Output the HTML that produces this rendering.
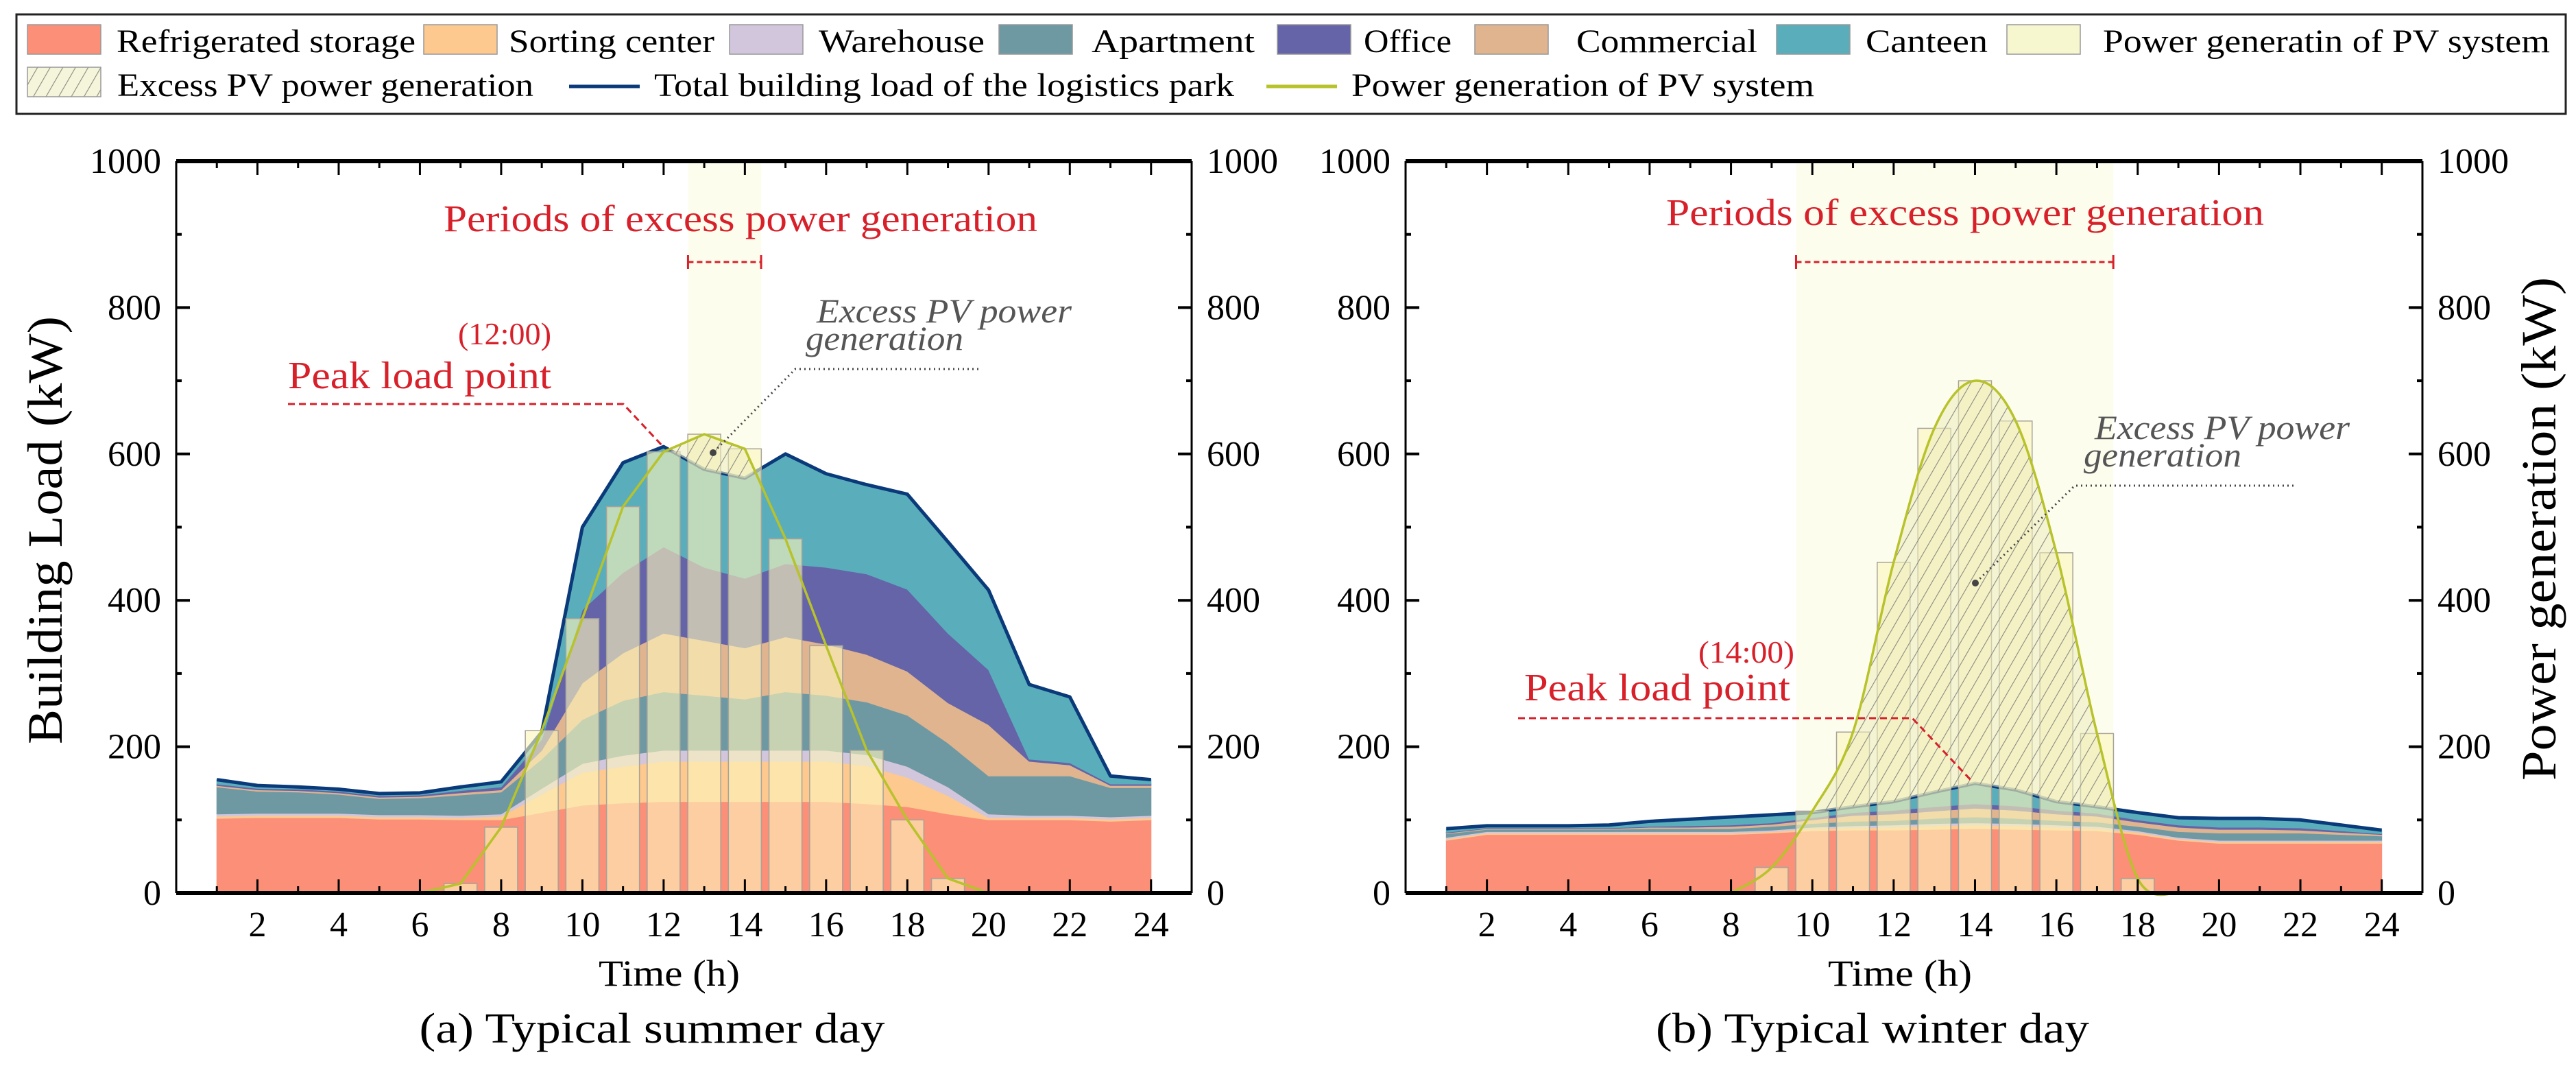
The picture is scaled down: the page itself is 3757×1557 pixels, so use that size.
<!DOCTYPE html>
<html><head><meta charset="utf-8"><style>
html,body{margin:0;padding:0;background:#fff;}
svg{display:block;font-family:"Liberation Serif",serif;}
</style></head><body>
<svg id="chart" width="3757" height="1557" viewBox="0 0 3757 1557" xmlns="http://www.w3.org/2000/svg">
<defs>
<pattern id="hatch" patternUnits="userSpaceOnUse" width="16" height="16" patternTransform="rotate(30)">
<rect width="16" height="16" fill="rgba(236,236,190,0.55)"/>
<line x1="0" y1="0" x2="0" y2="16" stroke="#8a8a80" stroke-width="2.2"/>
</pattern>
</defs>
<g id="legend">
<rect x="24" y="21" width="3718" height="145" fill="#fff" stroke="#222" stroke-width="3"/>
</g>
<g id="panelA"></g>
<g id="panelB"></g>
</svg>
<script>
const NS='http://www.w3.org/2000/svg';
// ---------- data ----------
const hours=[1,2,3,4,5,6,7,8,9,10,11,12,13,14,15,16,17,18,19,20,21,22,23,24];
const xTicks=[2,4,6,8,10,12,14,16,18,20,22,24];
const yTicks=[0,200,400,600,800,1000];
// summer layers (kW)
const sRefrig=[102,103,103,103,101,101,100,100,110,120,123,125,125,125,125,125,122,118,108,100,100,100,98,100];
const sSorting=[3,3,3,3,3,3,3,5,25,45,50,55,55,55,55,55,52,40,25,3,3,3,3,3];
const sWarehouse=[3,3,3,3,3,3,3,3,8,12,15,15,15,15,15,15,15,15,12,5,3,3,3,3];
const sApartment=[37,30,29,26,22,23,28,30,40,60,75,80,75,70,80,75,72,70,60,52,54,54,40,38];
const sCommercial=[2,2,2,2,2,2,3,3,12,50,65,80,75,70,75,70,65,60,55,70,20,15,3,3];
const sOffice=[2,2,2,2,2,2,3,4,15,100,110,118,100,95,100,105,110,112,95,75,3,3,2,2];
const sCanteen=[6,4,3,3,3,3,5,7,10,113,150,137,134,137,150,128,122,130,125,109,102,90,11,6];
const sPvHours=[6,7,8,9,10,11,12,13,14,15,16,17,18,19,20];
const sPv=[0,13,90,222,375,528,603,627,607,484,338,195,100,20,0];
// winter layers (kW)
const wRefrig=[72,80,80,80,80,80,80,80,82,85,86,86,87,88,87,86,85,80,72,68,68,68,68,68];
const wSorting=[2,2,2,2,2,2,2,2,2,3,3,4,5,5,5,4,3,3,2,2,2,2,2,2];
const wWarehouse=[2,2,2,2,2,2,2,2,2,2,3,3,3,3,3,3,3,2,2,2,2,2,2,2];
const wApartment=[5,3,3,3,3,4,4,4,5,5,6,6,7,8,7,6,6,6,8,10,10,10,8,6];
const wCommercial=[1,1,1,1,1,2,2,3,3,5,8,9,10,12,11,9,8,6,6,5,5,4,3,2];
const wOffice=[1,1,1,1,1,1,2,2,2,3,4,5,6,6,6,5,4,3,3,3,3,3,2,1];
const wCanteen=[5,3,3,3,4,7,9,11,11,7,8,12,20,28,22,12,9,10,10,12,12,11,8,5];
const wPvHours=[8,9,10,11,12,13,14,15,16,17,18,19];
const wPv=[0,35,112,220,452,635,700,645,465,218,20,0];

const layerColors=['#fb8f78','#fdc98e','#d2c6dc','#6e99a3','#dfb48f','#6564a8','#5aaebb'];
const layerNames=['refrigerated-storage','sorting-center','warehouse','apartment','commercial','office','canteen'];

function el(tag,attrs,parent){const e=document.createElementNS(NS,tag);for(const k in attrs)e.setAttribute(k,attrs[k]);if(parent)parent.appendChild(e);return e;}
function txt(parent,s,attrs){const t=el('text',attrs,parent);t.textContent=s;return t;}

function catmull(pts){let d='M'+pts[0][0]+','+pts[0][1];for(let i=0;i<pts.length-1;i++){const p0=pts[Math.max(0,i-1)],p1=pts[i],p2=pts[i+1],p3=pts[Math.min(pts.length-1,i+2)];const c1=[p1[0]+(p2[0]-p0[0])/6,p1[1]+(p2[1]-p0[1])/6],c2=[p2[0]-(p3[0]-p1[0])/6,p2[1]-(p3[1]-p1[1])/6];d+=` C${c1[0]},${c1[1]} ${c2[0]},${c2[1]} ${p2[0]},${p2[1]}`;}return d;}

function drawPanel(g,cfg){
  const L=cfg.left,R=cfg.right,T=235,B=1302;
  const x=h=>L+(R-L)*h/25;
  const y=v=>B-(B-T)*v/1000;
  const band=el('rect',{x:x(cfg.band[0]),y:T,width:x(cfg.band[1])-x(cfg.band[0]),height:B-T,fill:'#fdfdee'},g);
  
  
  const layers=cfg.layers;let base=hours.map(()=>0);
  layers.forEach((arr,li)=>{
    const top=base.map((b,i)=>b+arr[i]);
    let d='M'+hours.map((h,i)=>x(h)+','+y(top[i])).join(' L');
    for(let i=hours.length-1;i>=0;i--)d+=' L'+x(hours[i])+','+y(base[i]);
    const p=el('path',{d:d+'Z',fill:layerColors[li],stroke:layerColors[li],'stroke-width':1},g);
    
    
    base=top;
  });
  const total=base;
  const totPts=hours.map((h,i)=>x(h)+','+y(total[i])).join(' ');
  const tl=el('polyline',{points:totPts,fill:'none',stroke:'#0a3a7a','stroke-width':5,'stroke-linejoin':'round'},g);
  
  
  cfg.pvHours.forEach((h,i)=>{
    if(cfg.pv[i]<=0)return;
    const b=el('rect',{x:x(h)-24,y:y(cfg.pv[i]),width:48,height:B-y(cfg.pv[i]),fill:'#fbf6bb','fill-opacity':0.62,stroke:'#a6a39a','stroke-width':1.5},g);
    
    
  });
  const cid='clip'+cfg.id;
  const cp=el('clipPath',{id:cid},g);
  el('polygon',{points:x(hours[0])+','+T+' '+totPts+' '+x(hours[hours.length-1])+','+T},cp);
  const pvPts=cfg.pvHours.map((h,i)=>[x(h),y(cfg.pv[i])]);
  const pvD=cfg.smooth?catmull(pvPts):'M'+pvPts.map(p=>p.join(',')).join(' L');
  const ha=el('path',{d:pvD+' Z',fill:'url(#hatch)','clip-path':'url(#'+cid+')'},g);
  
  
  const pl=el('path',{d:pvD,fill:'none',stroke:'#b8c22a','stroke-width':3.5},g);
  
  
  el('line',{x1:L,y1:T,x2:R,y2:T,stroke:'#000','stroke-width':6},g);
  el('line',{x1:L,y1:B,x2:R,y2:B,stroke:'#000','stroke-width':6},g);
  el('line',{x1:L,y1:T,x2:L,y2:B,stroke:'#000','stroke-width':3},g);
  el('line',{x1:R,y1:T,x2:R,y2:B,stroke:'#000','stroke-width':3},g);
  for(let h=1;h<=24;h++){const len=h%2?10:20;
    el('line',{x1:x(h),y1:B,x2:x(h),y2:B-len,stroke:'#000','stroke-width':3},g);
    el('line',{x1:x(h),y1:T,x2:x(h),y2:T+len,stroke:'#000','stroke-width':3},g);}
  for(let v=100;v<1000;v+=100){const len=v%200?8:20;
    el('line',{x1:L,y1:y(v),x2:L+len,y2:y(v),stroke:'#000','stroke-width':4},g);
    el('line',{x1:R,y1:y(v),x2:R-len,y2:y(v),stroke:'#000','stroke-width':4},g);}
  xTicks.forEach(h=>{const t=txt(g,String(h),{x:x(h),y:1365,'font-size':52,'text-anchor':'middle'});
    
    });
  yTicks.forEach(v=>{
    const a=txt(g,String(v),{x:L-22,y:y(v)+17,'font-size':52,'text-anchor':'end'});
    
    
    const b=txt(g,String(v),{x:R+22,y:y(v)+17,'font-size':52,'text-anchor':'start'});
    
    });
  const xt=txt(g,'Time (h)',{x:cfg.timeX,y:1437,'font-size':54,'text-anchor':'middle',textLength:cfg.timeW,lengthAdjust:'spacingAndGlyphs'});
  
  
  const ct=txt(g,cfg.caption,{x:cfg.capX,y:1520,'font-size':62,'text-anchor':'middle',textLength:cfg.capW,lengthAdjust:'spacingAndGlyphs'});
  
  
  const red='#d8202a';
  const pe=txt(g,'Periods of excess power generation',{x:cfg.perX,y:cfg.perY,'font-size':55,fill:red,'text-anchor':'middle',textLength:cfg.perW,lengthAdjust:'spacingAndGlyphs'});
  
  
  const x1=x(cfg.band[0]),x2=x(cfg.band[1]);
  el('line',{x1:x1,y1:382,x2:x2,y2:382,stroke:red,'stroke-width':3,'stroke-dasharray':'8,5'},g);
  el('line',{x1:x1,y1:372,x2:x1,y2:392,stroke:red,'stroke-width':3},g);
  el('line',{x1:x2,y1:372,x2:x2,y2:392,stroke:red,'stroke-width':3},g);
  const a=cfg.ann;
  const tm=txt(g,a.time,{x:a.timeX,y:a.timeY,'font-size':46,fill:red,'text-anchor':'end',textLength:a.timeW,lengthAdjust:'spacingAndGlyphs'});
  
  
  const pk=txt(g,'Peak load point',{x:a.peakX,y:a.peakY,'font-size':56,fill:red,textLength:a.peakW,lengthAdjust:'spacingAndGlyphs'});
  
  
  el('polyline',{points:a.peakLine,fill:'none',stroke:red,'stroke-width':3,'stroke-dasharray':'10,6'},g);
  const e1=txt(g,'Excess PV power',{x:a.exX,y:a.exY,'font-size':50,fill:'#555','font-style':'italic',textLength:372,lengthAdjust:'spacingAndGlyphs'});
  
  
  txt(g,'generation',{x:a.exX-16,y:a.exY+40,'font-size':50,fill:'#555','font-style':'italic',textLength:230,lengthAdjust:'spacingAndGlyphs'});
  el('polyline',{points:a.exLine,fill:'none',stroke:'#444','stroke-width':3,'stroke-dasharray':'2,5'},g);
  el('circle',{cx:a.dot[0],cy:a.dot[1],r:5,fill:'#444'},g);
}

drawPanel(document.getElementById('panelA'),{id:'A',left:257,right:1738,band:[12.6,14.4],
  layers:[sRefrig,sSorting,sWarehouse,sApartment,sCommercial,sOffice,sCanteen],pvHours:sPvHours,pv:sPv,smooth:false,
  timeX:976,timeW:206,caption:'(a) Typical summer day',capX:951,capW:679,perX:1080,perY:337,perW:866,
  ann:{time:'(12:00)',timeX:804,timeY:502,timeW:136,peakX:420,peakY:566,peakW:384,peakLine:'420,589 909,589 966,650',
       exX:1191,exY:470,exLine:'1427,538 1160,538 1040,660',dot:[1040,660]}});
drawPanel(document.getElementById('panelB'),{id:'B',left:2050,right:3533,band:[9.6,17.4],
  layers:[wRefrig,wSorting,wWarehouse,wApartment,wCommercial,wOffice,wCanteen],pvHours:wPvHours,pv:wPv,smooth:true,
  timeX:2771,timeW:210,caption:'(b) Typical winter day',capX:2731,capW:632,perX:2866,perY:328,perW:872,
  ann:{time:'(14:00)',timeX:2617,timeY:966,timeW:140,peakX:2223,peakY:1021,peakW:388,peakLine:'2214,1047 2789,1047 2877,1140',
       exX:3055,exY:640,exLine:'3345,708 3026,708 2881,850',dot:[2881,850]}});

const svg=document.getElementById('chart');
const yt=txt(svg,'Building Load (kW)',{x:0,y:0,'font-size':72,'text-anchor':'middle',transform:'translate(90,773) rotate(-90)',textLength:624,lengthAdjust:'spacingAndGlyphs'});


const yr=txt(svg,'Power generation (kW)',{x:0,y:0,'font-size':72,'text-anchor':'middle',transform:'translate(3727,771) rotate(-90)',textLength:734,lengthAdjust:'spacingAndGlyphs'});



const lg=document.getElementById('legend');
const row1=[['Refrigerated storage','#fb8f78',40,170,436],['Sorting center','#fdc98e',618,742,300],['Warehouse','#d2c6dc',1064,1194,242],
['Apartment','#6e99a3',1457,1592,238],['Office','#6564a8',1863,1989,128],['Commercial','#dfb48f',2151,2299,264],['Canteen','#5aaebb',2591,2721,178],
['Power generatin of PV system','#f6f6cf',2927,3067,652]];
row1.forEach(r=>{
  const s=el('rect',{x:r[2],y:36,width:107,height:43,fill:r[1],stroke:'#999','stroke-width':1.5},lg);
  
  
  const t=txt(lg,r[0],{x:r[3],y:76,'font-size':48,textLength:r[4],lengthAdjust:'spacingAndGlyphs'});
  
  
});
const hs=el('rect',{x:40,y:98,width:107,height:43,fill:'url(#hatch)',stroke:'#999','stroke-width':1.5},lg);


const t2=txt(lg,'Excess PV power generation',{x:171,y:140,'font-size':48,textLength:607,lengthAdjust:'spacingAndGlyphs'});


el('line',{x1:830,y1:126,x2:933,y2:126,stroke:'#0a3a7a','stroke-width':5},lg);
const t3=txt(lg,'Total building load of the logistics park',{x:954,y:140,'font-size':48,textLength:846,lengthAdjust:'spacingAndGlyphs'});


el('line',{x1:1847,y1:126,x2:1950,y2:126,stroke:'#b8c22a','stroke-width':5},lg);
const t4=txt(lg,'Power generation of PV system',{x:1971,y:140,'font-size':48,textLength:675,lengthAdjust:'spacingAndGlyphs'});


</script>
</body></html>
